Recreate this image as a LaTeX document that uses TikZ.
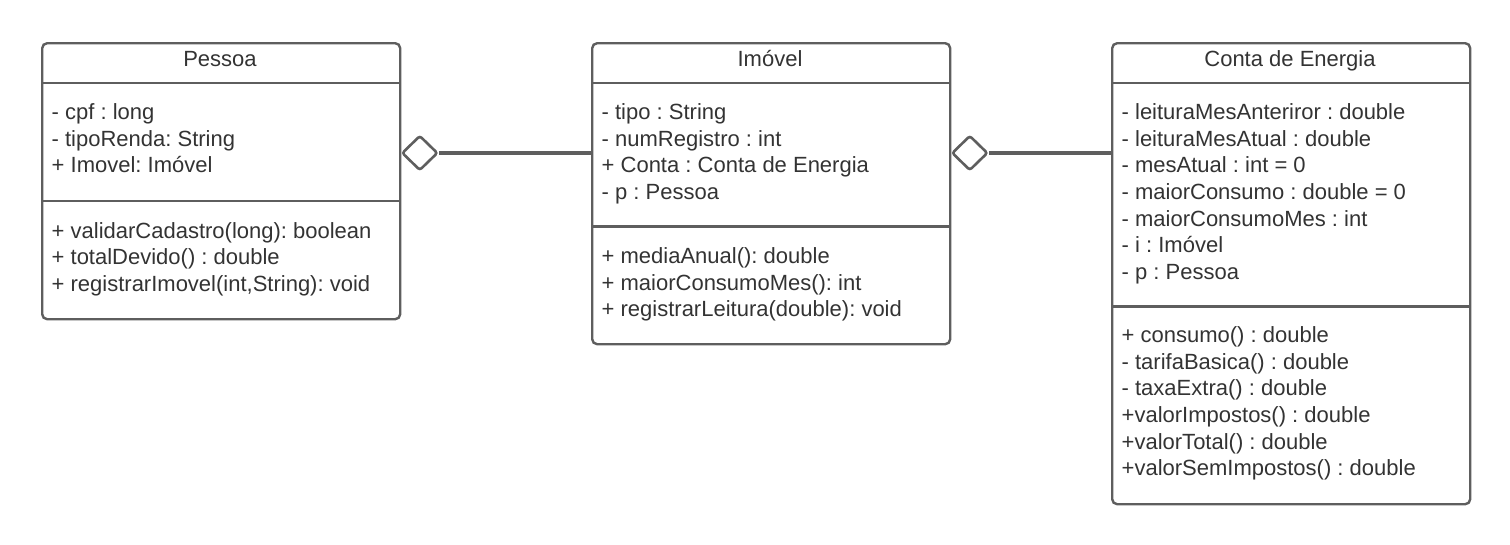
\documentclass[tikz,border=0pt]{standalone}
\usepackage{fontspec}
\setmainfont{Liberation Sans}
\usepackage{tikz}
\usetikzlibrary{shapes.geometric,positioning,calc}
\definecolor{umlline}{RGB}{94,94,94}
\definecolor{umltext}{RGB}{51,51,51}
\frenchspacing
\tikzset{
  classbox/.style={draw=umlline,line width=2.4pt,rounded corners=5pt,minimum width=358pt,inner sep=0pt,anchor=north west},
  sepline/.style={draw=umlline,line width=2.4pt},
  member/.style={anchor=base west,inner sep=0pt,text=umltext},
  ctitle/.style={anchor=base,inner sep=0pt,text=umltext},
  aggdiamond/.style={diamond,draw=umlline,line width=2.6pt,rounded corners=2.5pt,minimum width=36pt,minimum height=35pt,inner sep=0pt,anchor=west,fill=white},
  link/.style={draw=umlline,line width=4pt}
}

\begin{document}
\begin{tikzpicture}[x=1pt,y=-1pt,font=\fontsize{22}{26}\selectfont]
\useasboundingbox (0,0) rectangle (1510,544);
% Pessoa
\node[classbox,minimum height=276pt] (pessoa) at (41,42){};
\draw[sepline] (41,83)--(399,83) (41,201)--(399,201);
\node[ctitle] (pessoaT) at (220,66.5){Pessoa};
\foreach \t [count=\i from 0] in {- cpf : long,- tipoRenda: String,+ Imovel: Imóvel}
   \node[member] (pA\i) at (51.5,119.5+26.67*\i){\t};
\foreach \t [count=\i from 0] in {+ validarCadastro(long): boolean,+ totalDevido() : double,{+ registrarImovel(int,String): void}}
   \node[member] (pM\i) at (51.5,238+26.67*\i){\t};
% Imovel
\node[classbox,minimum height=301pt] (imovel) at (591,42){};
\draw[sepline] (591,83)--(949,83) (591,226.5)--(949,226.5);
\node[ctitle] (imovelT) at (770,66.5){Imóvel};
\foreach \t [count=\i from 0] in {- tipo : String,- numRegistro : int,+ Conta : Conta de Energia,- p : Pessoa}
   \node[member] (iA\i) at (601.5,119.5+26.67*\i){\t};
\foreach \t [count=\i from 0] in {+ mediaAnual(): double,+ maiorConsumoMes(): int,+ registrarLeitura(double): void}
   \node[member] (iM\i) at (601.5,263.5+26.67*\i){\t};
% Conta de Energia
\node[classbox,minimum height=461pt] (conta) at (1111,42){};
\draw[sepline] (1111,83)--(1469,83) (1111,306.5)--(1469,306.5);
\node[ctitle] (contaT) at (1290,66.5){Conta de Energia};
\foreach \t [count=\i from 0] in {- leituraMesAnteriror : double,- leituraMesAtual : double,{- mesAtual : int = 0},{- maiorConsumo : double = 0},- maiorConsumoMes : int,- i : Imóvel,- p : Pessoa}
   \node[member] (cA\i) at (1121.5,119.5+26.67*\i){\t};
\foreach \t [count=\i from 0] in {+ consumo() : double,- tarifaBasica() : double,- taxaExtra() : double,+valorImpostos() : double,+valorTotal() : double,+valorSemImpostos() : double}
   \node[member] (cM\i) at (1121.5,342.5+26.67*\i){\t};
% aggregations
\node[aggdiamond] (agg1) at (400.5,153){};
\node[aggdiamond] (agg2) at (950.5,153){};
\draw[link] (agg1.east)--(agg1.east -| imovel.west);
\draw[link] (agg2.east)--(agg2.east -| conta.west);
\end{tikzpicture}
\end{document}
